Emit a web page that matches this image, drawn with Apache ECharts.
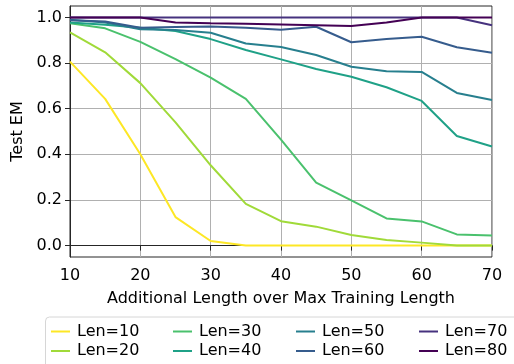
<!DOCTYPE html>
<html><head><meta charset="utf-8">
<script src="https://cdn.jsdelivr.net/npm/echarts@6/dist/echarts.min.js"></script>
<style>html,body{margin:0;padding:0;background:#fff}#c{width:514px;height:364px}</style>
</head><body><div id="c"></div>
<script>
const xValues = [10,15,20,25,30,35,40,45,50,55,60,65,70];
const yTicks = [0,0.2,0.4,0.6,0.8,1.0];
const seriesNames = ['Len=10','Len=20','Len=30','Len=40','Len=50','Len=60','Len=70','Len=80'];
const colors = ['#fde725','#a0da39','#4ac16d','#1fa187','#277f8e','#365c8d','#46327e','#440154'];
const len10 = [0.806,0.643,0.400,0.125,0.020,0,0,0,0,0,0,0,0];
const len20 = [0.934,0.847,0.712,0.540,0.352,0.183,0.107,0.083,0.046,0.025,0.013,0,0];
const len30 = [0.974,0.952,0.893,0.817,0.736,0.643,0.464,0.276,0.198,0.119,0.106,0.049,0.044];
const len40 = [0.978,0.968,0.955,0.940,0.905,0.857,0.816,0.774,0.740,0.694,0.634,0.480,0.434];
const len50 = [0.990,0.978,0.948,0.945,0.933,0.886,0.870,0.835,0.784,0.764,0.761,0.669,0.638];
const len60 = [0.988,0.982,0.955,0.958,0.960,0.955,0.946,0.959,0.891,0.905,0.915,0.869,0.845];
const len70 = [1.0,1.0,1.0,1.0,1.0,1.0,1.0,1.0,1.0,1.0,1.0,1.0,0.966];
const len80 = [1.0,1.0,1.0,0.978,0.974,0.972,0.969,0.966,0.962,0.978,1.0,1.0,1.0];
const allData = [len10,len20,len30,len40,len50,len60,len70,len80];

const font = 'DejaVu Sans';
const fs = 16;
const chart = echarts.init(document.getElementById('c'), null, {renderer:'canvas'});
const series = seriesNames.map((n,i)=>({
  name:n, type:'line', showSymbol:false, symbol:'none',
  data: xValues.map((x,j)=>[x, allData[i][j]]),
  lineStyle:{width:2, color:colors[i]}, itemStyle:{color:colors[i]},
  z: 3+i, animation:false
}));
const legendLeft = [51,51,173,173,296,296,419,419];
const legendTop = [323.5,343,323.5,343,323.5,343,323.5,343];
const legends = seriesNames.map((n,i)=>({
  data:[n], orient:'horizontal', left:legendLeft[i], top:legendTop[i], padding:0,
  itemWidth:19, itemHeight:2, icon:'rect',
  textStyle:{fontFamily:font, fontSize:fs, color:'#000', padding:[0,0,0,2]},
  selectedMode:false
}));
chart.setOption({
  animation:false,
  grid:{left:70, right:22, top:6, bottom:107, show:true, borderColor:'#262626', borderWidth:1, backgroundColor:'transparent'},
  graphic:[{type:'rect', shape:{x:45.5, y:317, width:520, height:80, r:4}, style:{fill:'rgba(255,255,255,0.8)', stroke:'#d6d6d6', lineWidth:1}, z:0}],
  legend: legends,
  xAxis:{type:'value', min:10, max:70, interval:10,
    name:'Additional Length over Max Training Length', nameLocation:'middle', nameGap:34,
    nameTextStyle:{fontFamily:font, fontSize:fs, color:'#000'},
    axisLine:{show:true, lineStyle:{color:'#262626', width:1}},
    axisTick:{show:true, length:5, lineStyle:{color:'#262626'}},
    axisLabel:{fontFamily:font, fontSize:fs, color:'#000', margin:11},
    splitLine:{show:true, lineStyle:{color:'#b0b0b0', width:1}}},
  yAxis:{type:'value', min:-0.05, max:1.05,
    name:'Test EM', nameLocation:'middle', nameGap:41.5,
    nameTextStyle:{fontFamily:font, fontSize:fs, color:'#000'},
    axisLine:{show:true, lineStyle:{color:'#262626', width:1}},
    axisTick:{show:true, length:5, customValues:yTicks, lineStyle:{color:'#262626'}},
    axisLabel:{fontFamily:font, fontSize:fs, color:'#000', margin:8, customValues:yTicks, formatter:v=>v.toFixed(1)},
    splitLine:{show:true, lineStyle:{color:'#b0b0b0', width:1}}},
  series: series
});
</script></body></html>
